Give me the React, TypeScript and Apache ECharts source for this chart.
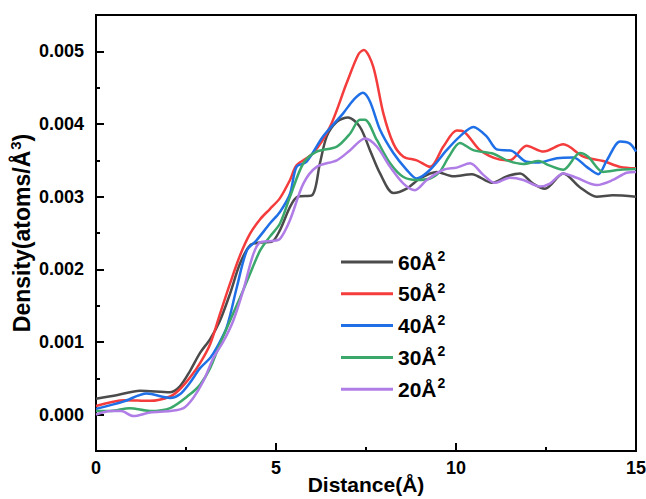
import React, { useEffect, useRef } from "react";
import * as echarts from "echarts";

// Series names
const seriesNames = ["60Å²", "50Å²", "40Å²", "30Å²", "20Å²"];
const seriesColors = ["#4b4b4b", "#f43c3c", "#1f6fe6", "#3aa86a", "#b07ce6"];

// 60Å² (values in 10^-3 atoms/Å³)
const x60 = [0, 0.6, 1.22, 2.06, 2.33, 2.61, 2.89, 3.17, 3.44, 3.72, 4.0, 4.28, 4.56, 4.88, 5.11, 5.39, 5.6, 6.0, 6.22, 6.41, 6.69, 7.0, 7.33, 7.61, 7.89, 8.26, 8.63, 9.0, 9.46, 9.93, 10.44, 11.0, 11.41, 11.78, 12.14, 12.47, 12.98, 13.44, 13.91, 14.36, 15];
const y60 = [0.22, 0.27, 0.33, 0.31, 0.39, 0.6, 0.85, 1.04, 1.29, 1.66, 2.08, 2.33, 2.37, 2.38, 2.54, 2.86, 3.0, 3.02, 3.46, 3.83, 4.03, 4.09, 3.96, 3.64, 3.32, 3.05, 3.11, 3.25, 3.34, 3.28, 3.31, 3.19, 3.28, 3.32, 3.18, 3.11, 3.32, 3.13, 3.0, 3.02, 3.0];

// 50Å²
const x50 = [0, 0.8, 1.5, 2.06, 2.33, 2.61, 2.89, 3.17, 3.44, 3.72, 4.0, 4.28, 4.56, 4.83, 5.11, 5.39, 5.57, 6.03, 6.5, 6.96, 7.29, 7.44, 7.7, 7.98, 8.26, 8.54, 8.91, 9.28, 9.65, 10.02, 10.2, 10.67, 11.22, 11.5, 11.96, 12.43, 12.98, 13.54, 14.09, 14.56, 15];
const y50 = [0.12, 0.2, 0.19, 0.25, 0.35, 0.51, 0.71, 0.97, 1.38, 1.8, 2.19, 2.49, 2.69, 2.83, 2.98, 3.23, 3.43, 3.6, 3.96, 4.56, 4.96, 5.02, 4.79, 4.15, 3.73, 3.55, 3.5, 3.41, 3.69, 3.91, 3.9, 3.64, 3.51, 3.5, 3.7, 3.62, 3.72, 3.55, 3.49, 3.41, 3.39];

// 40Å²
const x40 = [0, 0.76, 1.41, 2.06, 2.33, 2.61, 2.89, 3.17, 3.35, 3.63, 3.91, 4.19, 4.46, 4.83, 5.11, 5.39, 5.57, 5.85, 6.31, 6.87, 7.15, 7.41, 7.61, 7.89, 8.26, 8.63, 8.91, 9.28, 9.74, 10.11, 10.48, 10.85, 11.13, 11.55, 11.96, 12.3, 12.8, 13.26, 13.63, 13.95, 14.19, 14.56, 14.83, 15];
const y40 = [0.08, 0.18, 0.29, 0.23, 0.28, 0.44, 0.64, 0.78, 0.92, 1.2, 1.75, 2.26, 2.4, 2.63, 2.79, 3.04, 3.41, 3.48, 3.83, 4.15, 4.33, 4.43, 4.31, 3.92, 3.6, 3.37, 3.25, 3.37, 3.64, 3.83, 3.96, 3.83, 3.65, 3.63, 3.48, 3.47, 3.53, 3.54, 3.41, 3.31, 3.5, 3.76, 3.73, 3.62];

// 30Å²
const x30 = [0, 0.4, 0.94, 1.5, 2.06, 2.61, 2.89, 3.17, 3.44, 3.72, 4.0, 4.28, 4.56, 4.83, 5.11, 5.39, 5.76, 6.13, 6.69, 7.06, 7.33, 7.47, 7.8, 8.17, 8.54, 8.91, 9.28, 9.56, 9.8, 10.11, 10.48, 11.04, 11.41, 11.87, 12.3, 12.59, 12.98, 13.44, 13.67, 14.09, 14.56, 15];
const y30 = [0.05, 0.05, 0.09, 0.05, 0.09, 0.28, 0.41, 0.64, 0.97, 1.29, 1.61, 1.94, 2.26, 2.45, 2.63, 3.0, 3.46, 3.62, 3.69, 3.87, 4.06, 4.06, 3.78, 3.46, 3.27, 3.23, 3.25, 3.35, 3.55, 3.74, 3.64, 3.59, 3.5, 3.45, 3.49, 3.43, 3.37, 3.6, 3.55, 3.34, 3.37, 3.38];

// 20Å²
const x20 = [0, 0.4, 0.7, 1.04, 1.5, 2.06, 2.43, 2.7, 2.98, 3.26, 3.54, 3.81, 4.09, 4.37, 4.56, 4.88, 5.11, 5.39, 5.76, 6.13, 6.69, 7.06, 7.47, 7.8, 8.17, 8.54, 8.86, 9.19, 9.65, 10.02, 10.39, 10.76, 11.08, 11.5, 11.87, 12.33, 12.61, 12.98, 13.35, 13.91, 14.36, 14.74, 15];
const y20 = [0.0, 0.05, 0.05, -0.02, 0.03, 0.05, 0.09, 0.23, 0.46, 0.78, 1.01, 1.29, 1.71, 2.21, 2.37, 2.39, 2.42, 2.68, 3.18, 3.41, 3.5, 3.64, 3.8, 3.69, 3.41, 3.18, 3.09, 3.23, 3.37, 3.4, 3.46, 3.3, 3.19, 3.26, 3.23, 3.14, 3.18, 3.32, 3.26, 3.16, 3.23, 3.33, 3.34];

const yMajorTicks = [0, 0.001, 0.002, 0.003, 0.004, 0.005];
const yMinorTicks = [0.0005, 0.0015, 0.0025, 0.0035, 0.0045];

const xs = [x60, x50, x40, x30, x20];
const ys = [y60, y50, y40, y30, y20];

const FONT = "'Liberation Sans', Arial, sans-serif";

export default function App() {
  const ref = useRef<HTMLDivElement>(null);
  useEffect(() => {
    document.body.style.margin = "0";
    const chart = echarts.init(ref.current!, null, { renderer: "svg" });
    const series = seriesNames.map((name, i) => ({
      name,
      type: "line",
      smooth: 0.3,
      symbol: "none",
      lineStyle: { width: 2.5, color: seriesColors[i] },
      itemStyle: { color: seriesColors[i] },
      data: xs[i].map((x, j) => [x, ys[i][j] * 0.001]),
    }));
    chart.setOption({
      animation: false,
      backgroundColor: "#fff",
      textStyle: { fontFamily: FONT },
      grid: {
        left: 96, top: 15, right: 10, bottom: 48,
        outerBoundsMode: "none",
        containLabel: false,
        show: true, borderColor: "#000", borderWidth: 2,
      },
      legend: {
        orient: "vertical",
        left: 341,
        top: 249,
        padding: 0,
        icon: "rect",
        itemWidth: 52,
        itemHeight: 3,
        itemGap: 8.3,
        data: seriesNames,
        formatter: (name: string) => name.replace("²", "") + "{sup|2}",
        textStyle: {
          fontFamily: FONT, fontSize: 21, fontWeight: "bold", color: "#000",
          rich: {
            sup: { fontFamily: FONT, fontSize: 14, fontWeight: "bold", color: "#000", padding: [0, 0, 12, 1] },
          },
        },
      },
      xAxis: {
        type: "value",
        min: 0, max: 15, interval: 5,
        name: "Distance(Å)",
        nameLocation: "middle",
        nameGap: 23,
        nameMoveOverlap: false,
        nameTextStyle: { fontFamily: FONT, fontSize: 21, fontWeight: "bold", color: "#000" },
        axisLine: { show: true, onZero: false, lineStyle: { color: "#000", width: 2 } },
        axisTick: { show: true, inside: true, length: 8, lineStyle: { color: "#000", width: 2 } },
        minorTick: { show: true, splitNumber: 2, length: 4, lineStyle: { color: "#000", width: 2 } },
        axisLabel: { fontFamily: FONT, fontSize: 18, fontWeight: "bold", color: "#000", margin: 8 },
        splitLine: { show: false },
      },
      yAxis: [
        {
          type: "value",
          min: -0.0005, max: 0.0055,
          name: "Density(atoms/Å{sup|3})",
          nameLocation: "middle",
          nameGap: 61,
          nameMoveOverlap: false,
          nameTextStyle: {
            fontFamily: FONT, fontSize: 23, fontWeight: "bold", color: "#000",
            rich: {
              sup: { fontFamily: FONT, fontSize: 15, fontWeight: "bold", color: "#000", padding: [0, 0, 12, 1] },
            },
          },
          axisLine: { show: true, onZero: false, lineStyle: { color: "#000", width: 2 } },
          axisTick: { show: true, inside: true, length: 8, customValues: yMajorTicks, lineStyle: { color: "#000", width: 2 } },
          axisLabel: {
            fontFamily: FONT, fontSize: 18, fontWeight: "bold", color: "#000", margin: 12,
            customValues: yMajorTicks,
            formatter: (v: number) => v.toFixed(3),
          },
          splitLine: { show: false },
        },
        {
          type: "value",
          min: -0.0005, max: 0.0055,
          position: "left",
          offset: 0,
          axisLine: { show: false, onZero: false },
          axisTick: { show: true, inside: true, length: 4, customValues: yMinorTicks, lineStyle: { color: "#000", width: 2 } },
          axisLabel: { show: false },
          splitLine: { show: false },
        },
      ],
      series,
    });
    return () => chart.dispose();
  }, []);
  return <div ref={ref} style={{ width: 646, height: 499 }} />;
}
